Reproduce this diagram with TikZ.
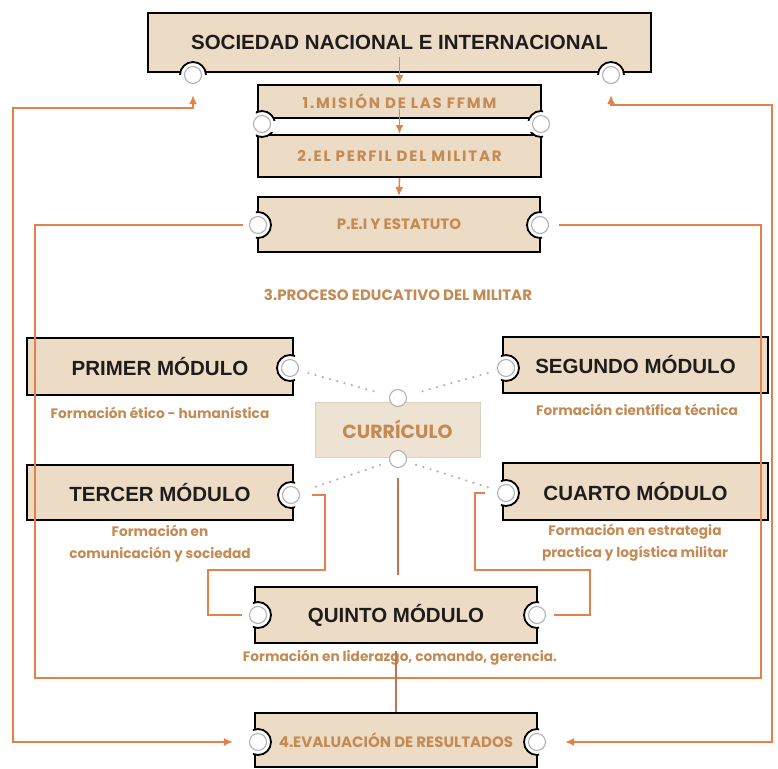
\documentclass[tikz,border=0pt]{standalone}
\usepackage{fontspec}
\setmainfont{Liberation Sans}
\newfontfamily\decofont{Poppins}
\newfontfamily\decowide{Poppins}[LetterSpace=12]
\usepackage{xcolor}
\usetikzlibrary{arrows.meta,calc}

\definecolor{boxtan}{RGB}{236,220,198}
\definecolor{curtan}{RGB}{238,226,211}
\definecolor{wirecol}{RGB}{226,130,72}
\definecolor{stemcol}{RGB}{190,114,86}
\definecolor{ochre}{RGB}{196,138,84}
\definecolor{titleblack}{RGB}{32,28,28}
\definecolor{dotgray}{RGB}{176,176,176}

% round notch cut into box #1 at point #2
\newcommand{\notch}[2]{%
  \begin{scope}
    \clip ([shift={(-1.2pt,-1.2pt)}]#1.south west) rectangle ([shift={(1.2pt,1.2pt)}]#1.north east);
    \draw[line width=1.8pt,fill=white] (#2) circle (13pt);
  \end{scope}}

\begin{document}
\begin{tikzpicture}[x=1pt,y=-1pt,>={Latex[length=9pt,width=8pt]}]
  % `tbox' is the notched ticket box, `cbox' the pale curriculum box.
  % `head' is black module text, `stage' and `note' the ochre texts.
  % `port' is the small white ring sitting in a notch.
  \tikzstyle{tbox} = [draw=black,line width=2pt,fill=boxtan,inner sep=0pt]
  \tikzstyle{cbox} = [draw=boxtan!80!black!60,line width=0.6pt,fill=curtan,minimum width=165pt,minimum height=55pt,
                      font=\decofont\fontsize{19}{22}\selectfont\bfseries,text=ochre]
  \tikzstyle{head} = [font=\fontsize{20.5}{24}\selectfont\bfseries,text=titleblack]
  \tikzstyle{stage} = [font=\decofont\fontsize{15}{17}\selectfont\bfseries,text=ochre]
  \tikzstyle{widestage} = [font=\decowide\fontsize{15}{17}\selectfont\bfseries,text=ochre]
  \tikzstyle{note} = [font=\decofont\fontsize{13.7}{22}\selectfont\bfseries,text=ochre,align=center]
  \tikzstyle{port} = [circle,draw=gray!60,fill=white,line width=1.1pt,minimum size=17pt,inner sep=0pt]
  \tikzstyle{wire} = [draw=wirecol,line width=1.6pt]
  \tikzstyle{stem} = [draw=stemcol,line width=1.2pt]
  \tikzstyle{dots} = [draw=dotgray,line width=2.4pt,line cap=round,dash pattern=on 0pt off 7.5pt,shorten <=10pt,shorten >=10pt]
  %
  \useasboundingbox (0,0) rectangle (778,768);
  % Boxes.
  \node[tbox,head,minimum width=503pt,minimum height=59pt] (sociedad) at (399.5,42.5) {SOCIEDAD NACIONAL E INTERNACIONAL};
  \node[tbox,widestage,minimum width=283pt,minimum height=33pt] (mision) at (399.5,101.5) {1.MISIÓN DE LAS FFMM};
  \node[tbox,widestage,minimum width=283pt,minimum height=42pt] (perfil) at (399.5,156) {2.EL PERFIL DEL MILITAR};
  \node[tbox,stage,minimum width=282pt,minimum height=55pt] (pei) at (399,224.5) {P.E.I Y ESTATUTO};
  \node[stage] (proceso) at (398,295) {3.PROCESO EDUCATIVO DEL MILITAR};
  \node[tbox,head,minimum width=266pt,minimum height=57pt] (primer) at (160,366.5) {PRIMER MÓDULO};
  \node[tbox,head,minimum width=265pt,minimum height=56pt] (segundo) at (635.5,365) {SEGUNDO MÓDULO};
  \node[cbox] (curriculo) at (397.5,429.5) {CURRÍCULO};
  \node[tbox,head,minimum width=266pt,minimum height=55pt] (tercer) at (160,492.5) {TERCER MÓDULO};
  \node[tbox,head,minimum width=265pt,minimum height=57pt] (cuarto) at (635.5,491.5) {CUARTO MÓDULO};
  \node[tbox,head,minimum width=282pt,minimum height=56pt] (quinto) at (396,615) {QUINTO MÓDULO};
  \node[tbox,stage,minimum width=282pt,minimum height=54pt] (evaluacion) at (396,740) {4.EVALUACIÓN DE RESULTADOS};
  % Module notes.
  \node[note] (primerTxt) at (160,413) {Formación ético - humanística};
  \node[note] (segundoTxt) at (637,410) {Formación científica técnica};
  \node[note] (tercerTxt) at (160,544) {Formación en\\comunicación y sociedad};
  \node[note] (cuartoTxt) at (635,543) {Formación en estrategia\\practica y logística militar};
  \node[note] (quintoTxt) at (400,658) {Formación en liderazgo, comando, gerencia.};
  % Notches.
  \notch{sociedad}{193,75} \notch{sociedad}{611,75}
  \notch{mision}{262,124} \notch{mision}{541,124}
  \notch{perfil}{262,124} \notch{perfil}{541,124}
  \notch{pei}{258,225} \notch{pei}{540,225}
  \notch{primer}{290,368} \notch{segundo}{506,368}
  \notch{tercer}{291,495} \notch{cuarto}{506,493}
  \notch{quinto}{258,615} \notch{quinto}{537,615}
  \notch{evaluacion}{258,742} \notch{evaluacion}{537,742}
  % Ports.
  \node[port] (socL) at (193,75) {};
  \node[port] (socR) at (611,75) {};
  \node[port] (misL) at (262,124) {};
  \node[port] (misR) at (541,124) {};
  \node[port] (peiL) at (258,225) {};
  \node[port] (peiR) at (540,225) {};
  \node[port] (priR) at (290,368) {};
  \node[port] (segL) at (506,368) {};
  \node[port] (curT) at (398,398) {};
  \node[port] (curB) at (398,459) {};
  \node[port] (terR) at (291,495) {};
  \node[port] (cuaL) at (506,493) {};
  \node[port] (quiL) at (258,615) {};
  \node[port] (quiR) at (537,615) {};
  \node[port] (evaL) at (258,742) {};
  \node[port] (evaR) at (537,742) {};
  \coordinate (curEnd) at (398,575);
  % Main chain.
  \draw[wire,->] ([yshift=16pt]sociedad.south) -- (mision.north);
  \draw[wire,->] ([yshift=10pt]mision.south) -- (perfil.north);
  \draw[wire,->] (perfil.south) -- (pei.north);
  % Outer feedback loops.
  \draw[wire,<->] ([yshift=-11pt]socL.south) |- (13,108) |- ([xshift=-16pt]evaL.west);
  \draw[wire,<->] ([yshift=-11pt]socR.south) |- (772,105) |- ([xshift=19pt]evaR.east);
  % Inner loop from P.E.I.
  \draw[wire] ([xshift=-6pt]peiL.west) -| (35,678) -| (761,225) -- ([xshift=10pt]peiR.east);
  % Curriculum links.
  \draw[dots] (priR) -- (curT);
  \draw[dots] (segL) -- (curT);
  \draw[dots] (curB) -- (terR);
  \draw[dots] (curB) -- (cuaL);
  \draw[stem] ([yshift=-10pt]curB.south) -- (curEnd);
  \draw[stem] ([yshift=-7pt]quinto.south) -- (evaluacion.north);
  % Third and fourth module into the fifth.
  \draw[wire] ([xshift=12pt]terR.east) -| (325,570) -| (208,615) -- ([xshift=-7pt]quiL.west);
  \draw[wire] ([xshift=-12pt]cuaL.west) -| (475,570) -| (590,615) -- ([xshift=8pt]quiR.east);
\end{tikzpicture}
\end{document}
